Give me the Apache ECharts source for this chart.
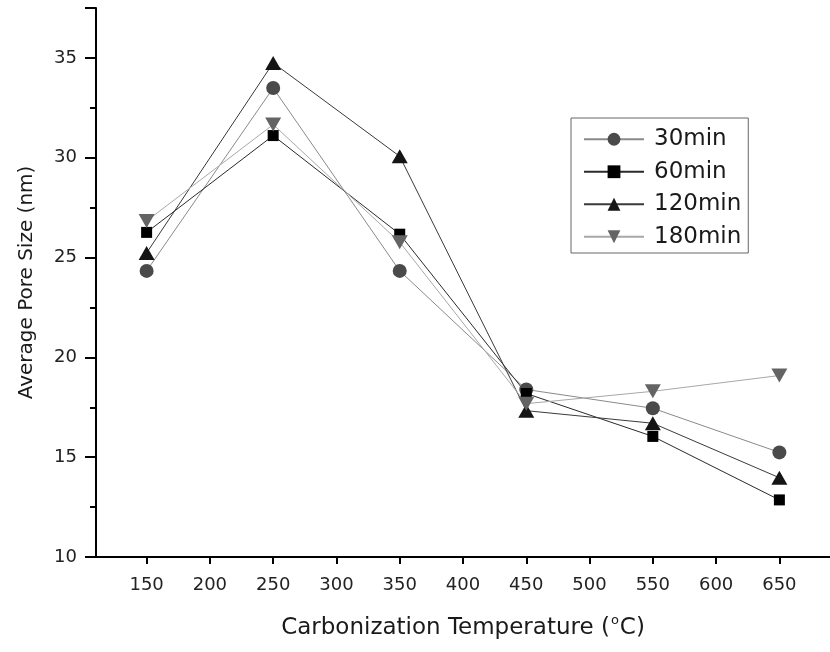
<!DOCTYPE html>
<html>
<head>
<meta charset="utf-8">
<script src="https://cdn.jsdelivr.net/npm/echarts@6/dist/echarts.min.js"></script>
<style>
html,body{margin:0;padding:0;background:#fff;}
#chart{width:830px;height:652px;}
</style>
</head>
<body>
<div id="chart"></div>
<script>
const temps = [150, 250, 350, 450, 550, 650];
const xTicks = [150, 200, 250, 300, 350, 400, 450, 500, 550, 600, 650];
const seriesNames = ['30min', '60min', '120min', '180min'];
const s30 = [24.33, 33.49, 24.33, 18.39, 17.45, 15.24];
const s60 = [26.26, 31.11, 26.17, 18.19, 16.04, 12.86];
const s120 = [25.23, 34.75, 30.07, 17.33, 16.70, 13.97];
const s180 = [26.83, 31.66, 25.77, 17.68, 18.30, 19.09];

const FONT = 'DejaVu Sans';
const pairs = (ys) => temps.map((t, i) => [t, ys[i]]);

const chart = echarts.init(document.getElementById('chart'), null, {renderer: 'canvas'});

function mk(name, ys, symbol, size, rot, fill, line) {
  return {
    name: name,
    type: 'line',
    data: pairs(ys),
    symbol: symbol,
    symbolSize: size,
    symbolRotate: rot,
    showAllSymbol: true,
    itemStyle: {color: fill, borderWidth: 0},
    lineStyle: {color: line, width: 1},
    emphasis: {disabled: true},
    animation: false,
    z: 2
  };
}

chart.setOption({
  backgroundColor: '#ffffff',
  animation: false,
  grid: {left: 96, top: 8, width: 741, height: 549, containLabel: false},
  xAxis: {
    type: 'value',
    min: 110,
    max: 690,
    name: '{t|Carbonization Temperature (}{sup|o}{t|C)}',
    nameLocation: 'middle',
    nameGap: 57,
    nameTextStyle: {
      fontFamily: FONT, fontSize: 23, color: '#1a1a1a',
      rich: {
        t: {fontFamily: FONT, fontSize: 23, lineHeight: 29, color: '#1a1a1a'},
        sup: {fontFamily: FONT, fontSize: 13, lineHeight: 13, color: '#1a1a1a', verticalAlign: 'top', padding: [0, 1, 0, 1]}
      }
    },
    axisLine: {show: true, onZero: false, lineStyle: {color: '#000', width: 2}},
    axisTick: {show: true, inside: false, length: 7, customValues: xTicks, lineStyle: {color: '#000', width: 2}},
    axisLabel: {show: true, margin: 19, customValues: xTicks, fontFamily: FONT, fontSize: 18, color: '#222'},
    splitLine: {show: false}
  },
  yAxis: {
    type: 'value',
    min: 10,
    max: 37.5,
    interval: 5,
    name: 'Average Pore Size (nm)',
    nameLocation: 'middle',
    nameGap: 59,
    nameTextStyle: {fontFamily: FONT, fontSize: 20, color: '#1a1a1a'},
    axisLine: {show: true, onZero: false, lineStyle: {color: '#000', width: 2}},
    axisTick: {show: true, inside: false, length: 11, lineStyle: {color: '#000', width: 2}},
    minorTick: {show: true, splitNumber: 2, length: 6, lineStyle: {color: '#000', width: 2}},
    axisLabel: {show: true, margin: 19, fontFamily: FONT, fontSize: 18, color: '#222', showMaxLabel: false},
    splitLine: {show: false},
    minorSplitLine: {show: false}
  },
  legend: {
    show: true,
    orient: 'vertical',
    left: 571,
    top: 118,
    data: seriesNames,
    borderColor: '#666',
    borderWidth: 1,
    padding: [9, 7, 4, 12],
    itemWidth: 60,
    itemHeight: 16,
    itemGap: 8,
    textStyle: {fontFamily: FONT, fontSize: 23, lineHeight: 24.5, color: '#1a1a1a', padding: [0, 0, 0, 5]},
    selectedMode: false
  },
  series: [
    mk(seriesNames[0], s30, 'circle', 14, 0, '#4a4a4a', '#8a8a8a'),
    mk(seriesNames[1], s60, 'rect', 11, 0, '#000000', '#2a2a2a'),
    mk(seriesNames[2], s120, 'triangle', [16, 14], 0, '#151515', '#3a3a3a'),
    mk(seriesNames[3], s180, 'triangle', [16, 14], 180, '#646464', '#a8a8a8')
  ]
});
</script>
</body>
</html>
